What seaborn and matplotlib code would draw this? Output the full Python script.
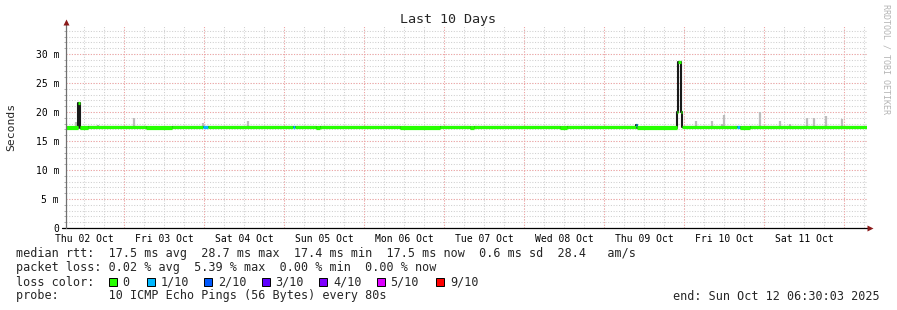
import matplotlib
matplotlib.use("Agg")
import matplotlib.pyplot as plt
import matplotlib.patches as mpatches
import numpy as np
import pandas as pd
import seaborn as sns

# ---------------- data ----------------
# hours since start (Thu 02 Oct 06:30) ; step changes of the median rtt (ms)
med_t = [0.0, 3.6, 4.2, 6.6, 24.0, 31.8, 41.1, 42.6, 68.1, 68.7, 75.0, 76.2,
         100.2, 112.2, 121.2, 122.4, 148.2, 150.3, 171.0, 171.3, 183.3, 183.6,
         184.5, 184.8, 201.3, 202.2, 205.2]
med_v = [17.3, 21.5, 17.3, 17.45, 17.3, 17.45, 17.45, 17.45, 17.45, 17.45, 17.3, 17.45,
         17.3, 17.45, 17.3, 17.45, 17.3, 17.45, 17.8, 17.3, 20.0, 28.7,
         20.0, 17.45, 17.45, 17.3, 17.45]
med_loss = [0, 0, 0, 0, 0, 0, 1, 0, 1, 0, 0, 0,
            0, 0, 0, 0, 0, 0, 1, 0, 0, 0,
            0, 0, 1, 0, 0]
t_end = 240.3
base_v = 17.45

# smoke (ping spread) tops
smoke_t = [3.0, 9.6, 20.4, 41.1, 54.6, 189.0, 193.8, 196.8, 197.4, 208.2, 214.2,
           217.2, 222.3, 224.4, 228.0, 232.8]
smoke_top = [18.3, 17.8, 19.0, 18.1, 18.4, 18.4, 18.4, 18.0, 19.5, 20.0, 18.4,
             18.0, 19.0, 19.0, 19.3, 18.8]

day_labels = ["Thu 02 Oct", "Fri 03 Oct", "Sat 04 Oct", "Sun 05 Oct", "Mon 06 Oct",
              "Tue 07 Oct", "Wed 08 Oct", "Thu 09 Oct", "Fri 10 Oct", "Sat 11 Oct"]
y_ticks = [0, 5, 10, 15, 20, 25, 30]

loss_labels = ["0", "1/10", "2/10", "3/10", "4/10", "5/10", "9/10"]
loss_colors = ["#26ff00", "#00b8ff", "#0059ff", "#5e00ff", "#7e00ff", "#dd00ff", "#ff0000"]

title = "Last 10 Days"
line_rtt = "median rtt:  17.5 ms avg  28.7 ms max  17.4 ms min  17.5 ms now  0.6 ms sd  28.4   am/s"
line_loss = "packet loss: 0.02 % avg  5.39 % max  0.00 % min  0.00 % now"
line_probe = "probe:       10 ICMP Echo Pings (56 Bytes) every 80s"
line_end = "end: Sun Oct 12 06:30:03 2025"

# ---------------- style ----------------
sns.set_theme(style="white")
plt.rcParams["font.family"] = ["DejaVu Sans Mono"]

W, H = 897, 310
fig = plt.figure(figsize=(W / 100, H / 100), dpi=100)
fig.patch.set_facecolor("white")
x0, x1, y0, y1 = 66, 867, 228, 25.6
ax = fig.add_axes([x0 / W, 1 - y0 / H, (x1 - x0) / W, (y0 - y1) / H])
ax.set_facecolor("white")
ax.set_xlim(0, t_end)
ax.set_ylim(0, 34.9)

# grid
minor_c = "#cfcfcf"
major_c = "#f4a3a3"
dots = (0, (1, 1.6))
for h in np.arange(5.5, t_end, 6.0):
    ax.axvline(h, color=minor_c, lw=0.75, ls=dots, zorder=0)
for v in range(1, 35):
    ax.axhline(v, color=minor_c, lw=0.75, ls=dots, zorder=0)
for h in np.arange(17.5, t_end, 24.0):
    ax.axvline(h, color=major_c, lw=0.75, ls=dots, zorder=0.5)
for v in range(5, 35, 5):
    ax.axhline(v, color=major_c, lw=0.75, ls=dots, zorder=0.5)

# smoke
ax.vlines(smoke_t, 17.5, smoke_top, color="#bdbdbd", lw=1.6, zorder=1)

# median: black connectors, loss-colored horizontal segments
step_t = med_t + [t_end]
step_v = med_v + [med_v[-1]]
df = pd.DataFrame({"t": step_t, "v": step_v})
sns.lineplot(data=df, x="t", y="v", drawstyle="steps-post", color="#1a1a1a",
             lw=1.5, ax=ax, zorder=2)
seg_end = med_t[1:] + [t_end]
for s, e, v, l in zip(med_t, seg_end, med_v, med_loss):
    if v < base_v:
        ax.hlines(base_v, s, e, color=loss_colors[l], lw=2.3, zorder=3)
    ax.hlines(v, s, e, color=loss_colors[l], lw=2.3, zorder=3)

ax.set_xlabel("")
ax.set_ylabel("")

# ticks
ax.set_xticks([5.5 + 24 * k for k in range(len(day_labels))])
ax.set_xticklabels(day_labels, fontsize=7)
ax.set_yticks(y_ticks)
ax.set_yticklabels(["0" if v == 0 else f"{v} m" for v in y_ticks], fontsize=7)
ax.tick_params(axis="x", length=0, pad=4, colors="#000000")
ax.tick_params(axis="y", length=3, width=0.7, pad=2, color="#808080", labelcolor="#000000")
ax.set_yticks(range(0, 35), minor=True)
ax.tick_params(axis="y", which="minor", length=1.5, width=0.6, color="#a0a0a0", left=True)

for s in ["top", "right", "left", "bottom"]:
    ax.spines[s].set_visible(False)

# axes lines with arrows
ax.plot([-0.005, 1.004], [0, 0], transform=ax.transAxes, color="#000000", lw=0.9,
        clip_on=False, zorder=4)
ax.plot([0, 0], [0, 1.015], transform=ax.transAxes, color="#707070", lw=0.9,
        clip_on=False, zorder=4)
ax.plot([1.004], [0], transform=ax.transAxes, marker=">", ms=4, color="#8b1a1a",
        clip_on=False, zorder=5, mec="none")
ax.plot([0], [1.02], transform=ax.transAxes, marker="^", ms=4, color="#8b1a1a",
        clip_on=False, zorder=5, mec="none")

# texts
def fx(x):
    return x / W

def fy(y):
    return 1 - y / H

fig.text(fx(448), fy(19), title, ha="center", va="center", fontsize=9.6)
fig.text(fx(11), fy(127), "Seconds", ha="center", va="center", rotation=90, fontsize=8.2)
fig.text(fx(886), fy(4), "RRDTOOL / TOBI OETIKER", ha="center", va="top", rotation=270,
         fontsize=6, color="#b4b4b4")

fs = 8.5
fig.text(fx(16), fy(254), line_rtt, ha="left", va="center", fontsize=fs)
fig.text(fx(16), fy(268), line_loss, ha="left", va="center", fontsize=fs)
fig.text(fx(16), fy(282), "loss color:", ha="left", va="center", fontsize=fs)
box_x = [108.5, 146.5, 204, 261.5, 319, 376.5, 436]
for bx, lab, col in zip(box_x, loss_labels, loss_colors):
    r = mpatches.Rectangle((fx(bx), fy(286)), 8 / W, 8 / H, transform=fig.transFigure,
                           facecolor=col, edgecolor="#000000", lw=0.7)
    fig.patches.append(r)
    fig.text(fx(bx + 14), fy(282), lab, ha="left", va="center", fontsize=fs)
fig.text(fx(16), fy(296), line_probe, ha="left", va="center", fontsize=fs)
fig.text(fx(880), fy(296), line_end, ha="right", va="center", fontsize=fs)

fig.savefig("out.png", dpi=100, facecolor="white")
